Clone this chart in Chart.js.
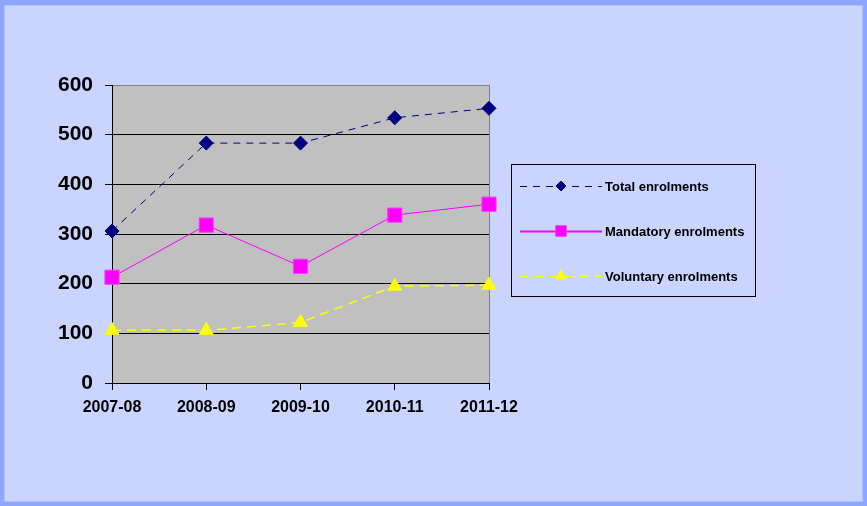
<!DOCTYPE html>
<html>
<head>
<meta charset="utf-8">
<script src="https://cdn.jsdelivr.net/npm/chart.js@4/dist/chart.umd.min.js"></script>
<style>
  html, body { margin: 0; padding: 0; background: #8fa6ff; }
  #wrap { position: relative; width: 867px; height: 506px; }
</style>
</head>
<body>
<div id="wrap"><canvas id="enrolments-chart" width="867" height="506"></canvas></div>
<script>
const years = ['2007-08', '2008-09', '2009-10', '2010-11', '2011-12'];
const totalEnrolments = [306, 483, 483, 534, 553];
const mandatoryEnrolments = [213, 318, 235, 338, 360];
const voluntaryEnrolments = [106, 106, 122, 195, 197];
const seriesNames = ['Total enrolments', 'Mandatory enrolments', 'Voluntary enrolments'];
const yTicks = [0, 100, 200, 300, 400, 500, 600];

const FONT = "'Liberation Sans', Arial, Helvetica, sans-serif";

// page frame + grey plot area
const backgroundPlugin = {
    id: 'frame',
    beforeDraw(chart) {
        const ctx = chart.ctx;
        const a = chart.chartArea;
        ctx.save();
        ctx.fillStyle = '#8fa6ff';
        ctx.fillRect(0, 0, chart.width, chart.height);
        ctx.fillStyle = '#c9d5ff';
        ctx.fillRect(4, 5, chart.width - 8, chart.height - 9);
        ctx.strokeStyle = '#b0c0ff';
        ctx.lineWidth = 1;
        ctx.strokeRect(4.5, 5.5, chart.width - 9, chart.height - 10);
        ctx.fillStyle = '#c0c0c0';
        ctx.fillRect(a.left, a.top, a.right - a.left, a.bottom - a.top);
        ctx.strokeStyle = '#808080';
        ctx.strokeRect(a.left + 0.5, a.top + 0.5, a.right - a.left, a.bottom - a.top);
        ctx.restore();
    }
};

// boxed legend with line + marker samples
const boxLegendPlugin = {
    id: 'boxLegend',
    afterDraw(chart) {
        const ctx = chart.ctx;
        const sampleSizes = [5, 7.5, 6];
        const sampleWidths = [1, 2, 1];
        const rows = [186, 231, 276];
        ctx.save();
        ctx.strokeStyle = '#000';
        ctx.lineWidth = 1;
        ctx.strokeRect(511.5, 164.5, 244, 132);
        chart.data.datasets.forEach((ds, i) => {
            const y = rows[i];
            ctx.save();
            ctx.strokeStyle = ds.borderColor;
            ctx.lineWidth = sampleWidths[i];
            ctx.setLineDash(ds.borderDash || []);
            ctx.beginPath();
            ctx.moveTo(520, y + 0.5);
            ctx.lineTo(602, y + 0.5);
            ctx.stroke();
            ctx.restore();
            ctx.save();
            ctx.fillStyle = ds.pointBackgroundColor;
            ctx.strokeStyle = ds.pointBorderColor;
            ctx.lineWidth = 1;
            Chart.helpers.drawPoint(ctx, { pointStyle: ds.pointStyle, radius: sampleSizes[i], rotation: 0, borderWidth: 1 }, 561, y);
            ctx.restore();
            ctx.fillStyle = '#000';
            ctx.font = 'bold 13px ' + FONT;
            ctx.textBaseline = 'middle';
            ctx.fillText(ds.label, 605, y + 1);
        });
        ctx.restore();
    }
};

const ctx = document.getElementById('enrolments-chart').getContext('2d');

new Chart(ctx, {
    type: 'line',
    data: {
        labels: years,
        datasets: [{
            label: seriesNames[0],
            data: totalEnrolments,
            borderColor: '#000080',
            borderWidth: 1,
            borderDash: [7, 6],
            pointStyle: 'rectRot',
            pointRadius: 7,
            pointBackgroundColor: '#000080',
            pointBorderColor: '#000080',
            pointBorderWidth: 1,
            tension: 0
        }, {
            label: seriesNames[1],
            data: mandatoryEnrolments,
            borderColor: '#ff00ff',
            borderWidth: 1,
            pointStyle: 'rect',
            pointRadius: 10,
            pointBackgroundColor: '#ff00ff',
            pointBorderColor: '#ff33ff',
            pointBorderWidth: 1,
            tension: 0
        }, {
            label: seriesNames[2],
            data: voluntaryEnrolments,
            borderColor: '#ffff00',
            borderWidth: 1.5,
            borderDash: [9, 6],
            pointStyle: 'triangle',
            pointRadius: 8,
            pointBackgroundColor: '#ffff00',
            pointBorderColor: '#ffff00',
            pointBorderWidth: 1,
            tension: 0
        }]
    },
    options: {
        responsive: false,
        animation: false,
        layout: {
            padding: { top: 85, right: 378, left: 0, bottom: 0 }
        },
        scales: {
            x: {
                offset: false,
                afterFit(scale) { scale.height = 123; },
                grid: {
                    drawOnChartArea: false,
                    drawTicks: true,
                    tickLength: 7,
                    tickColor: '#000'
                },
                border: { color: '#000', width: 1 },
                ticks: {
                    color: '#000',
                    padding: 8,
                    maxRotation: 0,
                    font: { family: FONT, size: 16, weight: 'bold' }
                }
            },
            y: {
                min: 0,
                max: 600,
                afterFit(scale) { scale.width = 112; },
                afterBuildTicks(scale) { scale.ticks = yTicks.map(v => ({ value: v })); },
                grid: {
                    color: c => (c.tick && c.tick.value === 600 ? '#808080' : '#000'),
                    drawTicks: true,
                    tickLength: 7,
                    tickColor: '#000'
                },
                border: { color: '#000', width: 1 },
                ticks: {
                    color: '#000',
                    padding: 12,
                    font: { family: FONT, size: 21, weight: 'bold' }
                }
            }
        },
        plugins: {
            legend: { display: false },
            tooltip: { enabled: false }
        }
    },
    plugins: [backgroundPlugin, boxLegendPlugin]
});
</script>
</body>
</html>
